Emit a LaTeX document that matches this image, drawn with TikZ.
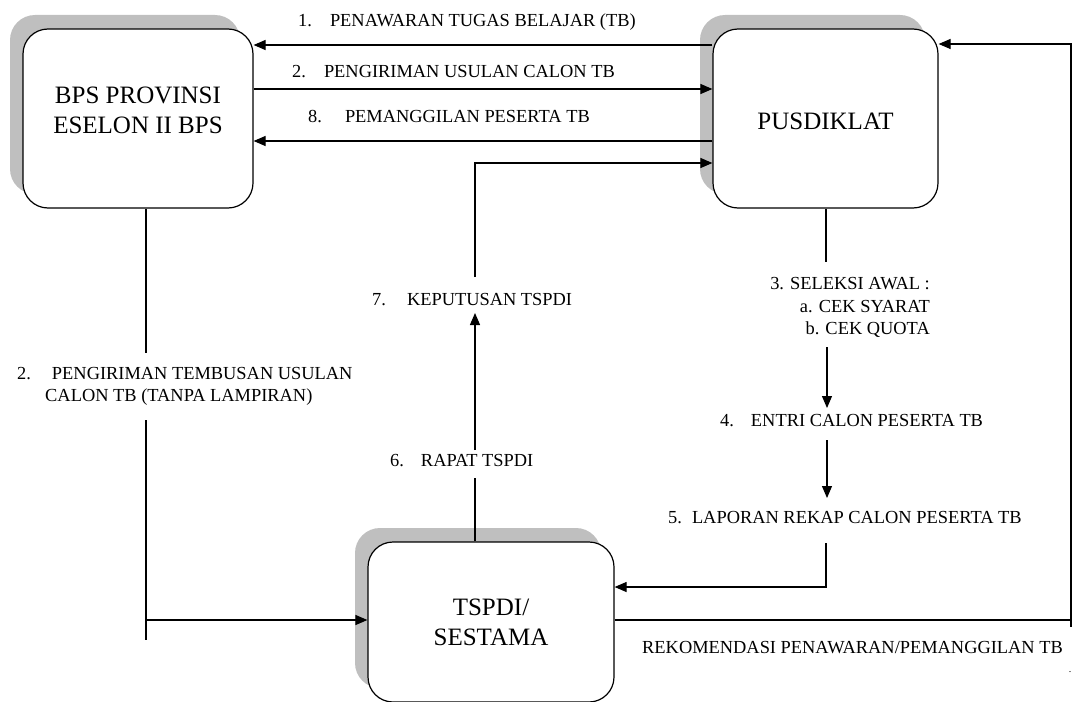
\documentclass[tikz,border=0pt]{standalone}
\usepackage{fontspec}
\setmainfont{Liberation Serif}
\usetikzlibrary{arrows.meta,shadows}
\begin{document}
\begin{tikzpicture}[x=1pt,y=-1pt,
  proc/.style={draw=black, line width=1.2pt, rounded corners=25pt, fill=white, inner sep=0pt,
     general shadow={fill=black!25, shadow xshift=-13pt, shadow yshift=14pt}},
  boxtext/.style={align=center, font=\fontsize{25}{30}\selectfont, inner sep=0pt},
  lbl/.style={font=\fontsize{18.4}{22.5}\selectfont, inner sep=0pt, anchor=west},
  conn/.style={line width=1.2pt},
  arr/.style={conn, -{Triangle[length=12pt,width=10pt]}},
]
\useasboundingbox (0,0) rectangle (1075,701);
% boxes
\node[proc, minimum width=230pt, minimum height=179pt] (bps) at (138,118.5) {};
\node[proc, minimum width=225pt, minimum height=179pt] (pus) at (825.5,118.5) {};
\node[proc, minimum width=246pt, minimum height=160pt] (tsp) at (491,622) {};
\node[boxtext] (bpst) at (138,110) {BPS PROVINSI\\ESELON II BPS};
\node[boxtext] (pust) at (825.5,121) {PUSDIKLAT};
\node[boxtext] (tspt) at (491,622) {TSPDI/\\SESTAMA};
% labels
\node[lbl] (l1) at (298,22) {1.\hspace{18pt}PENAWARAN TUGAS BELAJAR (TB)};
\node[lbl] (l2) at (292,72) {2.\hspace{18pt}PENGIRIMAN USULAN CALON TB};
\node[lbl] (l8) at (308,117) {8.\hspace{23pt}PEMANGGILAN PESERTA TB};
\node[lbl] (l7) at (372,300) {7.\hspace{21pt}KEPUTUSAN TSPDI};
\node[lbl] (l6) at (390,461) {6.\hspace{17pt}RAPAT TSPDI};
\node[lbl, align=right, anchor=east] (l3) at (930,307.5) {3. SELEKSI AWAL :\\a. CEK SYARAT\\b. CEK QUOTA\hspace{4pt}};
\node[lbl] (l4) at (720,421) {4.\hspace{17pt}ENTRI CALON PESERTA TB};
\node[lbl] (l5) at (668,518) {5.\hspace{10pt}LAPORAN REKAP CALON PESERTA TB};
\node[lbl] (lr) at (642,648) {REKOMENDASI PENAWARAN/PEMANGGILAN TB};
\node[lbl, align=left] (lt) at (17,386.5) {2.\hspace{21pt}PENGIRIMAN TEMBUSAN USULAN\\\hspace{28pt}CALON TB (TANPA LAMPIRAN)};
\node[font=\fontsize{10}{10}\selectfont, inner sep=0pt] (mk) at (1070,672) {.};
% free-end coordinates
\coordinate (rc1) at (1071,620);
\coordinate (rc2) at (1071,44);
\coordinate (rc3) at (1071,627);
\coordinate (s3a) at (826,262);
\coordinate (s3b) at (827,347);
\coordinate (s4a) at (827,408);
\coordinate (s4b) at (827,440);
\coordinate (s5a) at (827,498);
\coordinate (s5b) at (826,543);
\coordinate (s5c) at (826,587);
\coordinate (lta) at (146,353);
\coordinate (ltb) at (146,420);
\coordinate (ltc) at (146,620);
\coordinate (ltd) at (146,640);
\coordinate (t6a) at (475,478);
\coordinate (t6b) at (475,450);
\coordinate (t7a) at (475,313);
\coordinate (t7b) at (475,277);
\coordinate (t7c) at (475,163);
% connectors
\draw[arr] (pus.west |- 0,45) -- (bps.east |- 0,45);
\draw[arr] (bps.east |- 0,89) -- (pus.west |- 0,89);
\draw[arr] (pus.west |- 0,141) -- (bps.east |- 0,141);
\draw[arr] (tsp.east |- rc1) -- (rc1) -- (rc2) -- (pus.east |- rc2);
\draw[conn] (rc1) -- (rc3);
\draw[conn] (pus.south -| s3a) -- (s3a);
\draw[arr] (s3b) -- (s4a);
\draw[arr] (s4b) -- (s5a);
\draw[arr] (s5b) -- (s5c) -- (tsp.east |- s5c);
\draw[conn] (bps.south -| lta) -- (lta);
\draw[conn] (ltb) -- (ltd);
\draw[arr] (ltc) -- (tsp.west |- ltc);
\draw[conn] (tsp.north -| t6a) -- (t6a);
\draw[arr] (t6b) -- (t7a);
\draw[arr] (t7b) -- (t7c) -- (pus.west |- t7c);
\end{tikzpicture}
\end{document}
